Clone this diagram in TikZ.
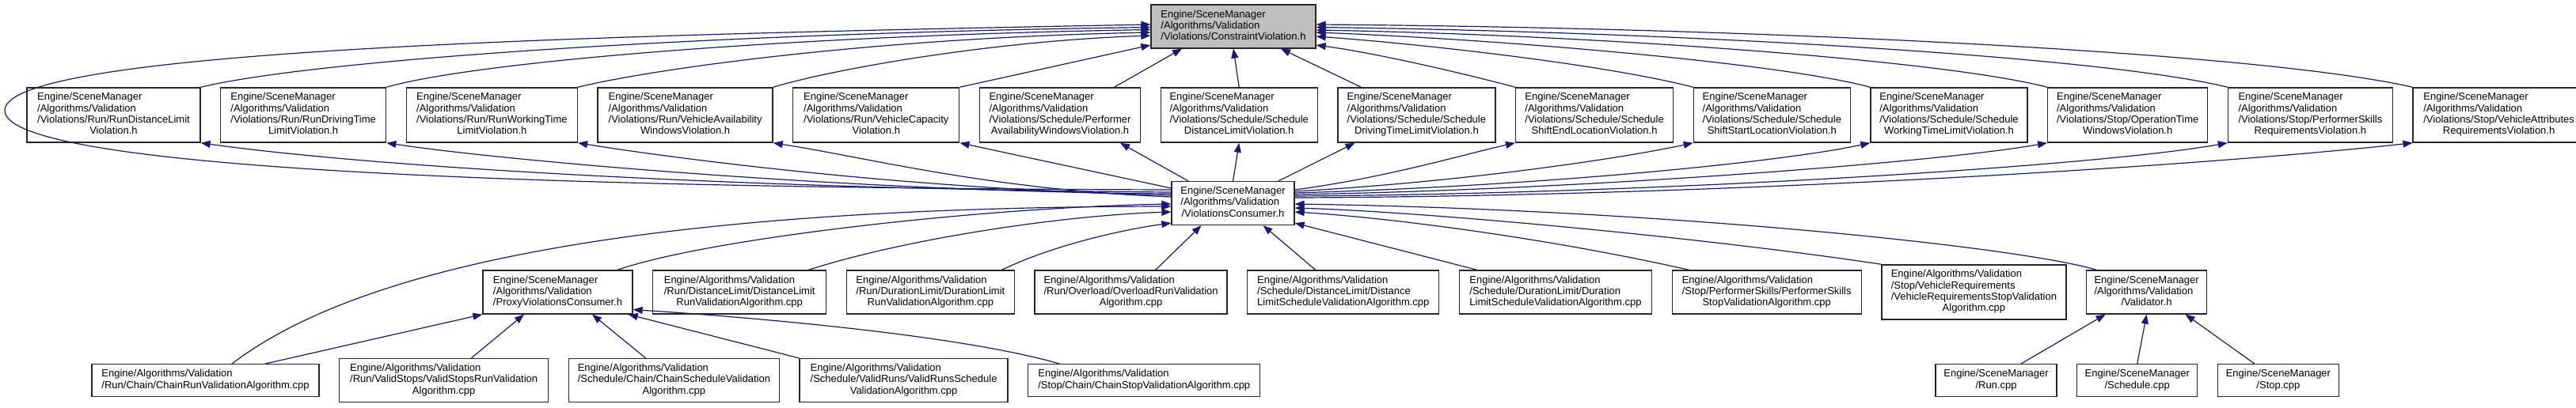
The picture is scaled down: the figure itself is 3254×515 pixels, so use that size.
\documentclass[tikz,border=0pt]{standalone}
\usepackage{fontspec}
\setmainfont{Liberation Sans}
\usetikzlibrary{positioning,arrows.meta}
\definecolor{edgeblue}{HTML}{191970}
\definecolor{hdrgray}{HTML}{BFBFBF}
\newcommand{\ftab}[1]{\begin{tabular}{@{}l@{}}#1\end{tabular}}
\newcommand{\tailln}[1]{\multicolumn{1}{@{}c@{}}{#1}}
\tikzset{
  incfile/.style={draw=black!85,line width=1.3pt,fill=white,inner xsep=0pt,inner ysep=6pt,
    font=\fontsize{13}{14.3}\selectfont},
  curfile/.style={incfile,fill=hdrgray},
  inc/.style={draw=edgeblue,line width=1.2pt,-{Triangle[length=12pt,width=9pt]}},
}
\begin{document}
\begin{tikzpicture}[x=1pt,y=-1pt,node distance=24.4pt]
  \useasboundingbox (0,0) rectangle (3254,515);

  % header and consumer
  \node[curfile,minimum width=208pt] (cv) at (1558,33.5) {\ftab{Engine/SceneManager\\/Algorithms/Validation\\\tailln{/Violations/ConstraintViolation.h}}};
  \node[incfile,minimum width=155pt] (vc) at (1557.5,257) {\ftab{Engine/SceneManager\\/Algorithms/Validation\\\tailln{/ViolationsConsumer.h}}};

  % violations
  \node[incfile,minimum width=219pt] (r1) at (143.5,145.5) {\ftab{Engine/SceneManager\\/Algorithms/Validation\\/Violations/Run/RunDistanceLimit\\\tailln{Violation.h}}};
  \node[incfile,minimum width=209pt] (r2) [right=of r1] {\ftab{Engine/SceneManager\\/Algorithms/Validation\\/Violations/Run/RunDrivingTime\\\tailln{LimitViolation.h}}};
  \node[incfile,minimum width=216pt] (r3) [right=of r2] {\ftab{Engine/SceneManager\\/Algorithms/Validation\\/Violations/Run/RunWorkingTime\\\tailln{LimitViolation.h}}};
  \node[incfile,minimum width=221pt] (r4) [right=of r3] {\ftab{Engine/SceneManager\\/Algorithms/Validation\\/Violations/Run/VehicleAvailability\\\tailln{WindowsViolation.h}}};
  \node[incfile,minimum width=210pt] (r5) [right=of r4] {\ftab{Engine/SceneManager\\/Algorithms/Validation\\/Violations/Run/VehicleCapacity\\\tailln{Violation.h}}};
  \node[incfile,minimum width=203pt] (r6) [right=of r5] {\ftab{Engine/SceneManager\\/Algorithms/Validation\\/Violations/Schedule/Performer\\\tailln{AvailabilityWindowsViolation.h}}};
  \node[incfile,minimum width=198pt] (r7) [right=of r6] {\ftab{Engine/SceneManager\\/Algorithms/Validation\\/Violations/Schedule/Schedule\\\tailln{DistanceLimitViolation.h}}};
  \node[incfile,minimum width=199pt] (r8) [right=of r7] {\ftab{Engine/SceneManager\\/Algorithms/Validation\\/Violations/Schedule/Schedule\\\tailln{DrivingTimeLimitViolation.h}}};
  \node[incfile,minimum width=199pt] (r9) [right=of r8] {\ftab{Engine/SceneManager\\/Algorithms/Validation\\/Violations/Schedule/Schedule\\\tailln{ShiftEndLocationViolation.h}}};
  \node[incfile,minimum width=198pt] (r10) [right=of r9] {\ftab{Engine/SceneManager\\/Algorithms/Validation\\/Violations/Schedule/Schedule\\\tailln{ShiftStartLocationViolation.h}}};
  \node[incfile,minimum width=198pt] (r11) [right=of r10] {\ftab{Engine/SceneManager\\/Algorithms/Validation\\/Violations/Schedule/Schedule\\\tailln{WorkingTimeLimitViolation.h}}};
  \node[incfile,minimum width=202pt] (r12) [right=of r11] {\ftab{Engine/SceneManager\\/Algorithms/Validation\\/Violations/Stop/OperationTime\\\tailln{WindowsViolation.h}}};
  \node[incfile,minimum width=208pt] (r13) [right=of r12] {\ftab{Engine/SceneManager\\/Algorithms/Validation\\/Violations/Stop/PerformerSkills\\\tailln{RequirementsViolation.h}}};
  \node[incfile,minimum width=217pt] (r14) [right=of r13] {\ftab{Engine/SceneManager\\/Algorithms/Validation\\/Violations/Stop/VehicleAttributes\\\tailln{RequirementsViolation.h}}};

  % algorithms
  \node[incfile,minimum width=189pt] (p) at (704.5,369.5) {\ftab{Engine/SceneManager\\/Algorithms/Validation\\\tailln{/ProxyViolationsConsumer.h}}};
  \node[incfile,minimum width=219pt] (a1) [right=of p] {\ftab{Engine/Algorithms/Validation\\/Run/DistanceLimit/DistanceLimit\\\tailln{RunValidationAlgorithm.cpp}}};
  \node[incfile,minimum width=212pt] (a2) [right=of a1] {\ftab{Engine/Algorithms/Validation\\/Run/DurationLimit/DurationLimit\\\tailln{RunValidationAlgorithm.cpp}}};
  \node[incfile,minimum width=243pt] (a3) [right=of a2] {\ftab{Engine/Algorithms/Validation\\/Run/Overload/OverloadRunValidation\\\tailln{Algorithm.cpp}}};
  \node[incfile,minimum width=242pt] (a4) [right=of a3] {\ftab{Engine/Algorithms/Validation\\/Schedule/DistanceLimit/Distance\\\tailln{LimitScheduleValidationAlgorithm.cpp}}};
  \node[incfile,minimum width=243pt] (a5) [right=of a4] {\ftab{Engine/Algorithms/Validation\\/Schedule/DurationLimit/Duration\\\tailln{LimitScheduleValidationAlgorithm.cpp}}};
  \node[incfile,minimum width=239pt] (a6) [right=of a5] {\ftab{Engine/Algorithms/Validation\\/Stop/PerformerSkills/PerformerSkills\\\tailln{StopValidationAlgorithm.cpp}}};
  \node[incfile,minimum width=233pt] (a7) [right=of a6] {\ftab{Engine/Algorithms/Validation\\/Stop/VehicleRequirements\\/VehicleRequirementsStopValidation\\\tailln{Algorithm.cpp}}};
  \node[incfile,minimum width=152pt] (vd) [right=of a7] {\ftab{Engine/SceneManager\\/Algorithms/Validation\\\tailln{/Validator.h}}};

  \node[incfile,minimum width=287pt] (c1) at (259.5,481) {\ftab{Engine/Algorithms/Validation\\\tailln{/Run/Chain/ChainRunValidationAlgorithm.cpp}}};
  \node[incfile,minimum width=264pt] (c2) [right=of c1] {\ftab{Engine/Algorithms/Validation\\/Run/ValidStops/ValidStopsRunValidation\\\tailln{Algorithm.cpp}}};
  \node[incfile,minimum width=266pt] (c3) [right=of c2] {\ftab{Engine/Algorithms/Validation\\/Schedule/Chain/ChainScheduleValidation\\\tailln{Algorithm.cpp}}};
  \node[incfile,minimum width=263pt] (c4) [right=of c3] {\ftab{Engine/Algorithms/Validation\\/Schedule/ValidRuns/ValidRunsSchedule\\\tailln{ValidationAlgorithm.cpp}}};
  \node[incfile,minimum width=293pt] (c5) [right=of c4] {\ftab{Engine/Algorithms/Validation\\\tailln{/Stop/Chain/ChainStopValidationAlgorithm.cpp}}};

  \node[incfile,minimum width=153pt] (s1) at (2521.5,481) {\ftab{Engine/SceneManager\\\tailln{/Run.cpp}}};
  \node[incfile,minimum width=152pt] (s2) [right=of s1] {\ftab{Engine/SceneManager\\\tailln{/Schedule.cpp}}};
  \node[incfile,minimum width=153pt] (s3) [right=of s2] {\ftab{Engine/SceneManager\\\tailln{/Stop.cpp}}};

  % violations include the header
  \draw[inc] (r1.north east) .. controls (400,75) and (900,42) .. ([yshift=-1pt]cv.west);
  \draw[inc] (r2.north east) .. controls (600,78) and (1000,45) .. ([yshift=-4pt]cv.west);
  \draw[inc] (r3.north east) .. controls (820,88) and (1100,48) .. ([yshift=-7.5pt]cv.west);
  \draw[inc] (r4.north east) .. controls (1050,88) and (1250,52) .. ([yshift=-11.5pt]cv.west);
  \draw[inc] (r5.north east) -- ([yshift=-23.5pt]cv.west);
  \draw[inc] ([xshift=68.5pt]r6.north) -- ([xshift=-65pt]cv.south);
  \draw[inc] (r7.north) -- (cv.south);
  \draw[inc] ([xshift=-70pt]r8.north) -- ([xshift=60pt]cv.south);
  \draw[inc] (r9.north west) .. controls (1830,88) and (1730,66) .. ([yshift=-23.5pt]cv.east);
  \draw[inc] (r10.north west) .. controls (2030,82) and (1800,56) .. ([yshift=-12.5pt]cv.east);
  \draw[inc] (r11.north west) .. controls (2250,80) and (1900,50) .. ([yshift=-7.5pt]cv.east);
  \draw[inc] (r12.north west) .. controls (2450,75) and (2000,44) .. ([yshift=-4.5pt]cv.east);
  \draw[inc] (r13.north west) .. controls (2650,70) and (2100,40) .. ([yshift=-1pt]cv.east);
  \draw[inc] (r14.north west) .. controls (2850,65) and (2200,35) .. ([yshift=2.5pt]cv.east);

  % consumer includes header and violations
  \draw[inc] ([yshift=17pt]vc.west) .. controls (700,238) and (8,215) .. (6,140)
    .. controls (4,65) and (700,45) .. ([yshift=2.5pt]cv.west);
  \draw[inc] ([yshift=14pt]vc.west) .. controls (1000,240) and (500,215) .. (r1.south east);
  \draw[inc] ([yshift=12pt]vc.west) .. controls (1100,243) and (650,205) .. (r2.south east);
  \draw[inc] ([yshift=10pt]vc.west) .. controls (1150,240) and (850,200) .. (r3.south east);
  \draw[inc] ([yshift=8pt]vc.west) .. controls (1250,240) and (1100,200) .. (r4.south east);
  \draw[inc] ([yshift=19pt]vc.west) -- (r5.south east);
  \draw[inc] ([xshift=-56.5pt]vc.north) -- ([xshift=76pt]r6.south);
  \draw[inc] (vc.north) -- (r7.south);
  \draw[inc] ([xshift=57.5pt]vc.north) -- ([xshift=-78pt]r8.south);
  \draw[inc] ([yshift=17pt]vc.east) .. controls (1750,225) and (1850,195) .. (r9.south west);
  \draw[inc] ([yshift=15pt]vc.east) .. controls (1850,230) and (2050,200) .. (r10.south west);
  \draw[inc] ([yshift=13pt]vc.east) .. controls (1950,235) and (2250,205) .. (r11.south west);
  \draw[inc] ([yshift=11pt]vc.east) .. controls (2000,240) and (2450,205) .. (r12.south west);
  \draw[inc] ([yshift=9pt]vc.east) .. controls (2100,245) and (2650,210) .. (r13.south west);
  \draw[inc] ([yshift=7pt]vc.east) .. controls (2200,248) and (2800,208) .. (r14.south west);

  % sources including the consumer
  \draw[inc] ([xshift=-20pt]p.north east) .. controls (900,300) and (1250,262) .. ([yshift=-1pt]vc.west);
  \draw[inc] ([xshift=33.5pt]c1.north) .. controls (450,340) and (800,262) .. ([yshift=-4pt]vc.west);
  \draw[inc] ([xshift=87pt]a1.north) .. controls (1150,300) and (1350,272) .. ([yshift=-11pt]vc.west);
  \draw[inc] ([xshift=90pt]a2.north) .. controls (1330,310) and (1420,290) .. ([yshift=3pt]vc.south west);
  \draw[inc] ([xshift=31pt]a3.north) -- ([xshift=-40pt]vc.south);
  \draw[inc] ([xshift=-35pt]a4.north) -- ([xshift=38pt]vc.south);
  \draw[inc] ([xshift=-99pt]a5.north) -- ([yshift=3pt]vc.south east);
  \draw[inc] ([xshift=-98pt]a6.north) .. controls (1950,300) and (1750,275) .. ([yshift=-11pt]vc.east);
  \draw[inc] (a7.north west) .. controls (2150,300) and (1800,268) .. ([yshift=-6pt]vc.east);
  \draw[inc] ([xshift=-63pt]vd.north) .. controls (2550,312) and (2100,265) .. ([yshift=-1pt]vc.east);

  % proxy and validator users
  \draw[inc] ([xshift=75.5pt]c1.north) -- (p.south west);
  \draw[inc] ([xshift=34.6pt]c2.north) -- ([xshift=-42.5pt]p.south);
  \draw[inc] ([xshift=-35.8pt]c3.north) -- ([xshift=43.5pt]p.south);
  \draw[inc] (c4.north west) -- ([xshift=-6pt]p.south east);
  \draw[inc] ([xshift=-107pt]c5.north) .. controls (1200,420) and (900,398) .. ([yshift=6pt]p.south east);
  \draw[inc] ([xshift=31.5pt]s1.north) -- ([xshift=-52pt]vd.south);
  \draw[inc] (s2.north) -- (vd.south);
  \draw[inc] ([xshift=-30pt]s3.north) -- ([xshift=49pt]vd.south);
\end{tikzpicture}
\end{document}
